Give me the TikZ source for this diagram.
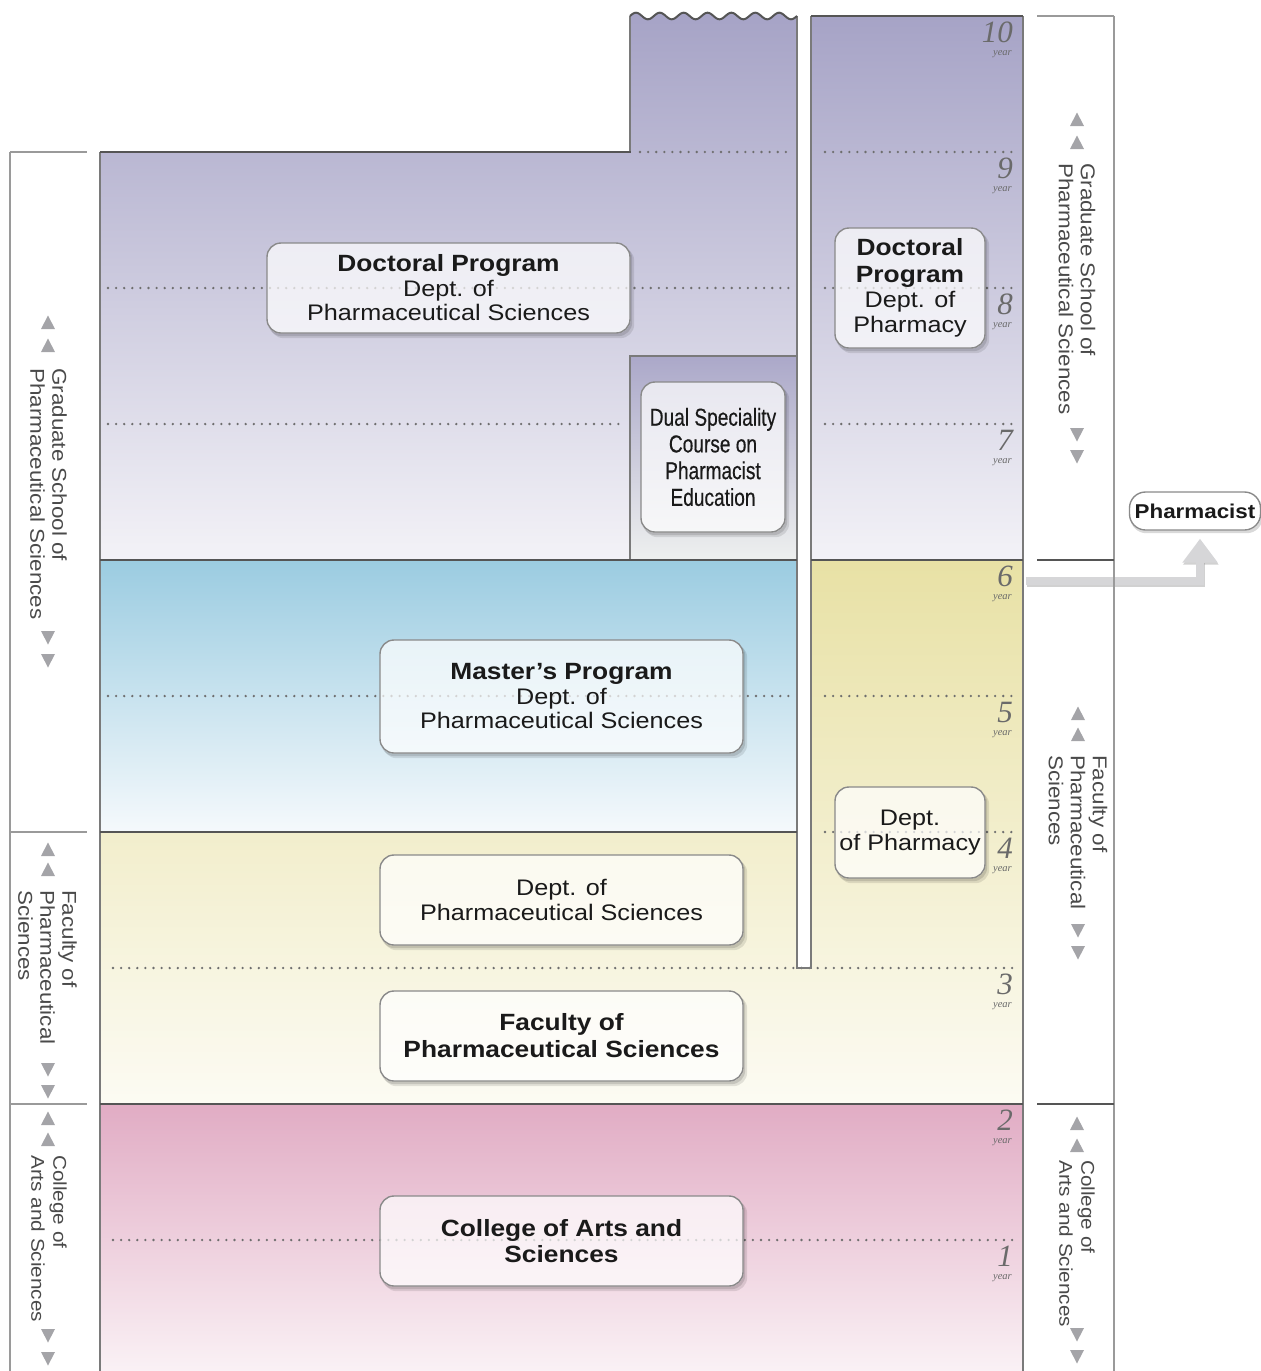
\documentclass[tikz,border=0pt]{standalone}
\usepackage{fontspec}
\setmainfont{Liberation Sans}[FakeStretch=1.12]
\newfontfamily\condfont{Liberation Sans}[FakeStretch=0.78,FakeBold=0.4]
\newfontfamily\yrfont{Liberation Serif}
\usetikzlibrary{arrows.meta}
\definecolor{purpTop}{HTML}{A6A3C6}
\definecolor{purpBot}{HTML}{F3F2F7}
\definecolor{dualTop}{HTML}{ABA8C9}
\definecolor{dualBot}{HTML}{EEF0EF}
\definecolor{blueTop}{HTML}{9BCCE1}
\definecolor{blueBot}{HTML}{F5F9FC}
\definecolor{yelTop}{HTML}{E8E1A5}
\definecolor{yelBot}{HTML}{FCFBF3}
\definecolor{pinkTop}{HTML}{E1ACC4}
\definecolor{pinkBot}{HTML}{FAF1F5}
\definecolor{framegray}{HTML}{7A7A7A}
\definecolor{sepgray}{HTML}{555555}
\definecolor{dotgray}{HTML}{6E6E6E}
\definecolor{yrgray}{HTML}{6A6A6A}
\definecolor{labgray}{HTML}{4A4A4A}
\definecolor{trigray}{HTML}{A4A4A8}
\definecolor{brgray}{HTML}{9A9A9A}
\definecolor{boxgray}{HTML}{8A8A8A}
\definecolor{txt}{HTML}{1A1A1A}
\definecolor{arrowgray}{HTML}{D6D6D8}
\newcommand\bt{\fontsize{23.5}{24.5}\selectfont\bfseries}
\begin{document}
\begin{tikzpicture}[x=1pt,y=-1pt,
  frame/.style={draw=framegray, line width=1.4pt},
  sep/.style={draw=sepgray, line width=2.8pt},
  dots/.style={draw=dotgray, line width=2.6pt, line cap=round, dash pattern=on 0pt off 8.1pt},
  yrnum/.style={font=\yrfont\itshape\fontsize{31}{31}\selectfont, text=yrgray, anchor=east, inner sep=0pt},
  yrword/.style={font=\yrfont\itshape\fontsize{10.5}{10.5}\selectfont, text=yrgray, anchor=east, inner sep=0pt},
  vlab/.style={rotate=-90, anchor=west, align=left, font=\fontsize{20}{22}\selectfont, text=labgray, inner sep=0pt},
  vlabs/.style={vlab, font=\fontsize{18.5}{22}\selectfont},
  bracketv/.style={draw=brgray, line width=1.6pt},
  tick/.style={draw=brgray, line width=1.6pt},
  darktick/.style={draw=sepgray, line width=1.3pt},
  box/.style={draw=boxgray, line width=1.4pt, rounded corners=14pt, fill=white, fill opacity=0.7,
    text opacity=1, text=txt, inner sep=0pt, align=center, font=\fontsize{22.5}{24.5}\selectfont},
  triup/.pic={\fill[trigray] (-7,7) -- (7,7) -- (0,-6.5) -- cycle;},
  tridown/.pic={\fill[trigray] (-7,-7) -- (7,-7) -- (0,6.5) -- cycle;}
]
\useasboundingbox (0,0) rectangle (1261,1371);

% ---------- bands ----------
\shade[top color=purpTop, bottom color=purpBot]
  (100,560) -- (100,152) -- (630,152) -- (630,16)
  -- plot[domain=630:797, samples=141] (\x,{16-3.3*sin((\x-630)/167*7*360)})
  -- (797,560) -- cycle;
\shade[top color=purpTop, bottom color=purpBot] (811,16) rectangle (1023,560);
\shade[top color=dualTop, bottom color=dualBot] (630,356) rectangle (797,560);
\shade[top color=blueTop, bottom color=blueBot] (100,560) rectangle (797,832);
\shade[top color=yelTop, bottom color=yelBot]
  (100,832) -- (797,832) -- (797,968) -- (811,968) -- (811,560) -- (1023,560) -- (1023,1104) -- (100,1104) -- cycle;
\shade[top color=pinkTop, bottom color=pinkBot] (100,1104) rectangle (1023,1371);

% ---------- dotted year lines ----------
\draw[dots] (640,152) -- (792,152);
\draw[dots] (108,288) -- (792,288);
\draw[dots] (108,424) -- (625,424);
\draw[dots] (108,696) -- (792,696);
\foreach \yy in {152,288,424,696,832} \draw[dots] (825,\yy) -- (1017,\yy);
\draw[dots] (113,968) -- (1017,968);
\draw[dots] (113,1240) -- (1017,1240);

% ---------- frames ----------
\draw[frame] (100,1371) -- (100,152);
\draw[frame] (630,152) -- (630,16);
\draw[frame] (797,16) -- (797,968) -- (811,968) -- (811,16);
\draw[frame] (1023,16) -- (1023,1371);
\draw[frame] (630,560) -- (630,356) -- (797,356);
\draw[sep] (100,152) -- (631,152);
\draw[sep] (811,16) -- (1023,16);
\draw[sep] (100,560) -- (797,560);
\draw[sep] (811,560) -- (1023,560);
\draw[sep] (100,832) -- (797,832);
\draw[sep] (100,1104) -- (1023,1104);
\draw[draw=sepgray, line width=2pt] plot[domain=630:797, samples=141] (\x,{16-3.3*sin((\x-630)/167*7*360)});

% ---------- boxes ----------
\node[box, minimum width=363pt, minimum height=90pt] (docL) at (448.5,288)
  {{\bt Doctoral Program}\\Dept. of\\Pharmaceutical Sciences};
\node[box, minimum width=150pt, minimum height=120pt] (docR) at (910,288)
  {{\bt Doctoral}\\[2.5pt]{\bt Program}\\[0.5pt]Dept. of\\Pharmacy};
\node[box, minimum width=144pt, minimum height=150pt, font=\condfont\fontsize{24.5}{26.7}\selectfont] (dual) at (713,457)
  {Dual Speciality\\Course on\\Pharmacist\\Education};
\node[box, minimum width=363pt, minimum height=113pt] (mast) at (561.5,696.5)
  {\raisebox{-3pt}{\parbox{360pt}{\centering{\bt Master's Program}\\Dept. of\\Pharmaceutical Sciences}}};
\node[box, minimum width=363pt, minimum height=90pt] (deptps) at (561.5,900)
  {Dept. of\\Pharmaceutical Sciences};
\node[box, minimum width=150pt, minimum height=91pt] (deptph) at (910,832.5)
  {Dept.\\of Pharmacy};
\node[box, minimum width=363pt, minimum height=90pt] (fac) at (561.5,1036)
  {{\bt Faculty of}\\[2.5pt]{\bt Pharmaceutical Sciences}};
\node[box, minimum width=363pt, minimum height=90pt] (coll) at (561.5,1241)
  {{\bt College of Arts and}\\[1.5pt]{\bt Sciences}};

% soft shadows, kept outside the boxes
\foreach \b in {docL,docR,dual,mast,deptps,deptph,fac,coll}{
  \begin{scope}[even odd rule]
    \clip (0,0) rectangle (1261,1371)
      [rounded corners=14pt] (\b.north west) rectangle (\b.south east);
    \fill[black, opacity=0.10, rounded corners=14pt]
      ([shift={(3.5,4.5)}]\b.north west) rectangle ([shift={(3.5,4.5)}]\b.south east);
    \fill[black, opacity=0.12, rounded corners=14pt]
      ([shift={(1.5,2.5)}]\b.north west) rectangle ([shift={(1.5,2.5)}]\b.south east);
  \end{scope}
}

% ---------- years ----------
\foreach \n/\yy in {10/16,9/152,8/288,7/424,6/560,5/696,4/832,3/968,2/1104,1/1240}{
  \node[yrnum] (n\n) at (1013,\yy+16.5) {\n};
  \node[yrword] (w\n) at (1012,\yy+38) {year};
}

% ---------- pharmacist ----------
\node[box, minimum width=131pt, minimum height=38pt, rounded corners=16pt, fill opacity=1,
  font=\fontsize{20}{22}\selectfont\bfseries] (pharm) at (1195,511) {Pharmacist};
\begin{scope}[even odd rule]
  \clip (0,0) rectangle (1261,1371)
    [rounded corners=16pt] (pharm.north west) rectangle (pharm.south east);
  \fill[black, opacity=0.15, rounded corners=16pt]
    ([shift={(1.5,2.5)}]pharm.north west) rectangle ([shift={(1.5,2.5)}]pharm.south east);
\end{scope}
\coordinate (astart) at (1026,581);
\draw[line width=8pt, draw=black!40, opacity=0.45, -{Triangle[width=34pt,length=24pt]}, shorten >=8pt,
  transform canvas={xshift=0.8pt, yshift=-2pt}] (astart) -| ([xshift=5pt]pharm.south);
\draw[line width=8pt, draw=arrowgray, -{Triangle[width=34pt,length=24pt]}, shorten >=8pt]
  (astart) -| ([xshift=5pt]pharm.south);

% ---------- brackets ----------
\draw[bracketv] (10,152) -- (10,1371);
\draw[tick] (10,152) -- (87,152);
\draw[tick] (10,832) -- (87,832);
\draw[tick] (10,1104) -- (87,1104);
\draw[bracketv] (1114,16) -- (1114,1371);
\draw[tick] (1037,16) -- (1114,16);
\draw[darktick] (1037,560) -- (1114,560);
\draw[darktick] (1037,1104) -- (1114,1104);

% ---------- side labels ----------
\node[vlab] (lgrad) at (48.5,368) {Graduate School of\\Pharmaceutical Sciences};
\node[vlab] (lfac) at (47.5,890) {Faculty of\\Pharmaceutical\\Sciences};
\node[vlabs] (lcol) at (49,1155) {College of\\Arts and Sciences};
\node[vlab] (rgrad) at (1077,163) {Graduate School of\\Pharmaceutical Sciences};
\node[vlab] (rfac) at (1078,755) {Faculty of\\Pharmaceutical\\Sciences};
\node[vlabs] (rcol) at (1077,1160) {College of\\Arts and Sciences};

\pic at (48,322) {triup}; \pic at (48,345) {triup};
\pic at (48,638) {tridown}; \pic at (48,661) {tridown};
\pic at (48,849) {triup}; \pic at (48,869) {triup};
\pic at (48,1070) {tridown}; \pic at (48,1092) {tridown};
\pic at (48,1118) {triup}; \pic at (48,1139) {triup};
\pic at (48,1336) {tridown}; \pic at (48,1359) {tridown};
\pic at (1077,119) {triup}; \pic at (1077,142) {triup};
\pic at (1077,435) {tridown}; \pic at (1077,457) {tridown};
\pic at (1078,713) {triup}; \pic at (1078,734) {triup};
\pic at (1078,931) {tridown}; \pic at (1078,953) {tridown};
\pic at (1077,1123) {triup}; \pic at (1077,1145) {triup};
\pic at (1077,1335) {tridown}; \pic at (1077,1357) {tridown};
\end{tikzpicture}
\end{document}
